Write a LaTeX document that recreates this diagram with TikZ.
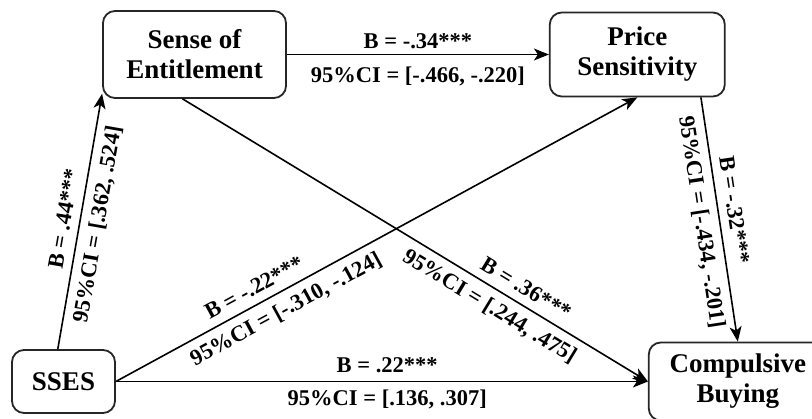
\documentclass[tikz,border=0pt]{standalone}
\usepackage{fontspec}
\setmainfont{Liberation Serif}
\usetikzlibrary{arrows.meta, positioning}

\begin{document}
\begin{tikzpicture}[
      x=1pt, y=1pt,
      >={Stealth[length=15pt, width=12pt, inset=4pt]},
      var/.style={
        rectangle, draw=black!85, rounded corners=12pt, align=center,
        line width=1.8pt, font=\fontsize{27}{30}\selectfont\bfseries
      },
      conn/.style={->, line width=1.6pt},
      lbl/.style={font=\fontsize{22.5}{26}\selectfont\bfseries, inner sep=2pt, sloped}
    ]
    \useasboundingbox (0,0) rectangle (812,-419);
    \clip (0,0) rectangle (812,-419);

    \node[var, minimum width=183pt, minimum height=87pt] (soe) at (194.5,-54.5) {Sense of\\Entitlement};
    \node[var, minimum width=175pt, minimum height=84pt, right=262pt of soe] (ps) {Price\\Sensitivity};
    \node[var, minimum width=103pt, minimum height=63pt] (sses) at (63.5,-381.5) {SSES};
    \node[var, minimum width=178pt, minimum height=78pt, right=532pt of sses] (cb) {Compulsive\\Buying};

    \draw[conn] (sses.100) -- node[lbl, above=6pt] {B = .44***}
      node[lbl, below=6pt] {95\%CI = [.362, .524]} (soe.203);
    \draw[conn] (soe.east) -- node[lbl, above=3pt] {B = -.34***}
      node[lbl, below=10pt] {95\%CI = [-.466, -.220]} (ps.west);
    \draw[conn] (soe.255) -- node[lbl, above=6pt, pos=0.72] {B = .36***}
      node[lbl, below=6pt, pos=0.68] {95\%CI = [.244, .475]} (cb.west);
    \draw[conn] (sses.east) -- node[lbl, above=6pt, pos=0.28] {B = -.22***}
      node[lbl, below=6pt, pos=0.31] {95\%CI = [-.310, -.124]} (ps.south);
    \draw[conn] (sses.east) -- node[lbl, above=6pt, pos=0.51] {B = .22***}
      node[lbl, below=6pt, pos=0.51] {95\%CI = [.136, .307]} (cb.west);
    \draw[conn] (ps.326) -- node[lbl, above=6pt, pos=0.47] {B = -.32***}
      node[lbl, below=6pt, pos=0.5] {95\%CI = [-.434, -.201]} (cb.north);
  \end{tikzpicture}
\end{document}
